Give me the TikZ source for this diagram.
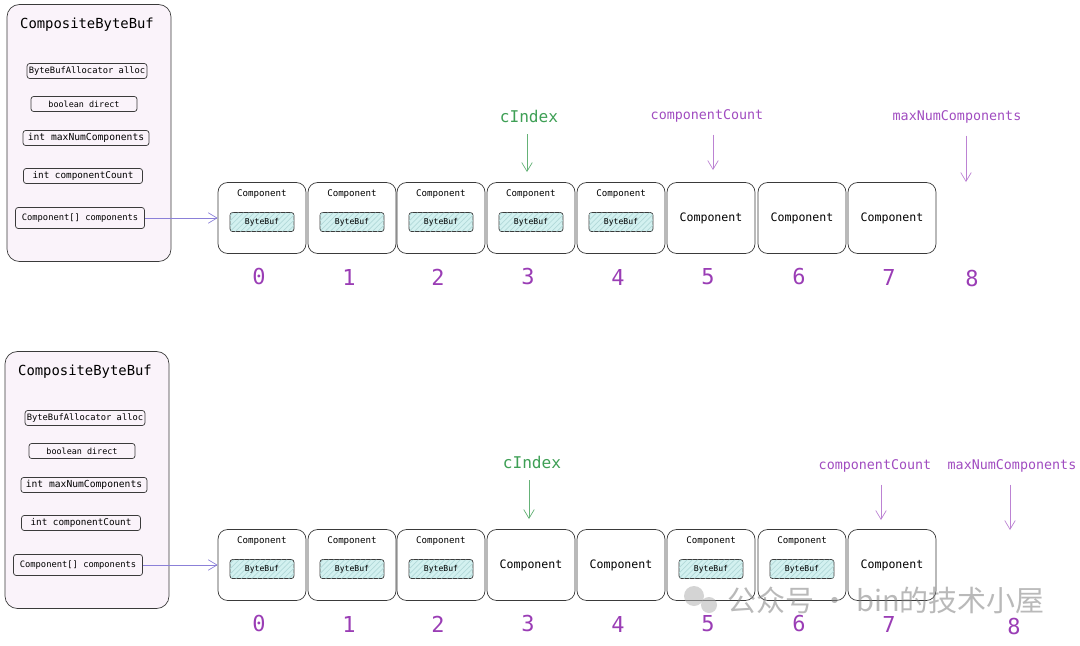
\documentclass[tikz,border=0pt]{standalone}
\usepackage{fontspec}
\setmonofont{DejaVu Sans Mono}
\newfontfamily\cjkfont{Noto Sans CJK SC}
\usetikzlibrary{arrows.meta,patterns}

\definecolor{frame}{HTML}{3A3A3A}
\definecolor{holderfill}{HTML}{FAF3FA}
\definecolor{buffill}{HTML}{D3F1F0}
\definecolor{idxpurple}{HTML}{9A3DB5}
\definecolor{ptrpurple}{HTML}{A04CC0}
\definecolor{ptrgreen}{HTML}{3E9F55}
\definecolor{linkblue}{HTML}{8B80D8}

\begin{document}
\begin{tikzpicture}[x=0.02cm, y=-0.02cm, thin, >={Straight Barb[length=5pt,width=6pt]}, font=\ttfamily,
	holder/.style={draw=frame, fill=holderfill, rounded corners=7pt, minimum width=3.28cm, minimum height=5.14cm},
	holdtitle/.style={font=\ttfamily\fontsize{7.9}{9}\selectfont},
	field/.style={draw=frame, rounded corners=1.5pt, inner sep=1pt, minimum height=0.3cm},
	comp/.style={draw=frame, fill=white, rounded corners=5.5pt, minimum width=1.76cm, minimum height=1.42cm},
	ctitle/.style={font=\ttfamily\fontsize{5.2}{6}\selectfont},
	cplain/.style={font=\ttfamily\fontsize{6.6}{8}\selectfont},
	buf/.style={draw=frame, fill=buffill, postaction={pattern=north east lines, pattern color=teal!30},
		rounded corners=1.5pt, minimum width=1.28cm, minimum height=0.38cm, inner sep=0pt, font=\ttfamily\fontsize{4.6}{5}\selectfont},
	idx/.style={text=idxpurple, font=\ttfamily\fontsize{12.5}{14}\selectfont},
	gptr/.style={text=ptrgreen, font=\ttfamily\fontsize{9.2}{11}\selectfont},
	pptr/.style={text=ptrpurple, font=\ttfamily\fontsize{7.6}{9}\selectfont}]
	\useasboundingbox (0,0) rectangle (1080,646);

	% the two states share the same layout
	\foreach \r/\dx/\dy in {top/0/0, bot/-2/347} {
		\node[holder] (\r-holder) at ({89+\dx},{133+\dy}) {};
		\node[holdtitle] (\r-title) at ({87+\dx},{25+\dy}) {CompositeByteBuf};
		\foreach \n/\x/\y/\w/\s/\t in {alloc/87/71/2.36/5/ByteBufAllocator alloc,
				direct/84/104/2.12/4.8/boolean direct,
				maxnum/86/138/2.52/5.5/int maxNumComponents,
				count/83/176/2.38/5.3/int componentCount}
			\node[field, minimum width=\w cm, font=\ttfamily\fontsize{\s}{6}\selectfont] (\r-\n) at ({\x+\dx},{\y+\dy}) {\t};
		\node[field, minimum width=2.58cm, minimum height=0.42cm, font=\ttfamily\fontsize{5}{6}\selectfont] (\r-comps) at ({80+\dx},{218+\dy}) {Component[] components};
		\foreach \x [count=\i from 0] in {262,352,441,531,621,711,802,892} {
			\node[comp] (\r\i) at (\x,{218+\dy}) {};
			\node[idx] (\r\i-num) at ({\x-3},{277+\dy}) {\i};
		}
		\draw[->, linkblue] (\r-comps) -- (\r0.west);
	}
	\node[idx] (top8-num) at (972,279) {8};
	\node[idx] (bot8-num) at (1014,627) {8};

	% components holding a ByteBuf
	\foreach \i in {0,...,4} {
		\node[ctitle] (top\i-title) at ([yshift=13.6pt]top\i.center) {Component};
		\node[buf] (top\i-buf) at ([yshift=-2.3pt]top\i.center) {ByteBuf};
	}
	\foreach \i in {0,1,2,5,6} {
		\node[ctitle] (bot\i-title) at ([yshift=13.6pt]bot\i.center) {Component};
		\node[buf] (bot\i-buf) at ([yshift=-2.3pt]bot\i.center) {ByteBuf};
	}
	% empty components
	\foreach \i in {5,6,7}
		\node[cplain] (top\i-title) at (top\i) {Component};
	\foreach \i in {3,4,7}
		\node[cplain] (bot\i-title) at (bot\i) {Component};

	% pointers, top
	\node[gptr] (top-cidx) at (529,116) {cIndex};
	\node[pptr] (top-count) at (707,116) {componentCount};
	\node[pptr] (top-max) at (957,117) {maxNumComponents};
	\coordinate (top-cidx-end) at (527,172);
	\coordinate (top-count-end) at (713,170);
	\coordinate (top-max-end) at (966,182);
	\draw[->, ptrgreen!80] (top-cidx-end |- top-cidx.south) ++(0,6) -- (top-cidx-end);
	\draw[->, ptrpurple!70] (top-count-end |- top-count.south) ++(0,6) -- (top-count-end);
	\draw[->, ptrpurple!70] (top-max-end |- top-max.south) ++(0,6) -- (top-max-end);

	% pointers, bottom
	\node[gptr] (bot-cidx) at (532,462) {cIndex};
	\node[pptr] (bot-count) at (875,466) {componentCount};
	\node[pptr] (bot-max) at (1012,466) {maxNumComponents};
	\coordinate (bot-cidx-end) at (529,519);
	\coordinate (bot-count-end) at (881,520);
	\coordinate (bot-max-end) at (1010,530);
	\draw[->, ptrgreen!80] (bot-cidx-end |- bot-cidx.south) ++(0,6) -- (bot-cidx-end);
	\draw[->, ptrpurple!70] (bot-count-end |- bot-count.south) ++(0,6) -- (bot-count-end);
	\draw[->, ptrpurple!70] (bot-max-end |- bot-max.south) ++(0,6) -- (bot-max-end);

	% watermark
	\begin{scope}[opacity=0.55]
		\fill[gray!60] (694,596) circle (10);
		\fill[gray!60] (709,605) circle (8);
		\node[text=gray, font=\cjkfont\fontsize{16.5}{17}\selectfont] (mark) at (886,600) {公众号 · bin的技术小屋};
	\end{scope}
\end{tikzpicture}
\end{document}
